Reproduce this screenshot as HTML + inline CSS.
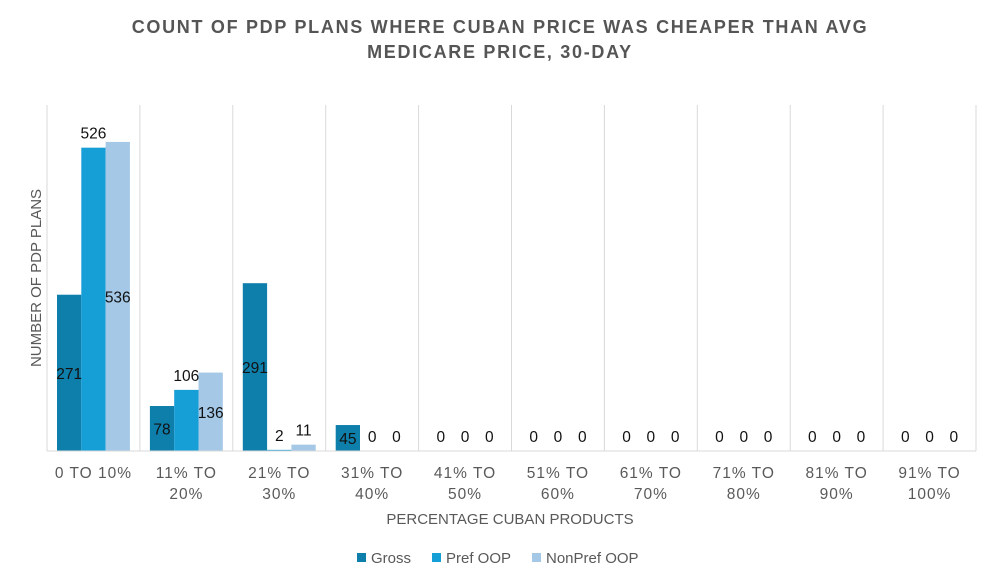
<!DOCTYPE html>
<html><head><meta charset="utf-8"><style>
body{margin:0;background:#fff;font-family:"Liberation Sans",sans-serif;}
svg text{font-family:"Liberation Sans",sans-serif;}
</style></head><body>
<svg id="c" width="1000" height="579">
<text x="500" y="33" text-anchor="middle" font-size="18" font-weight="bold" fill="#555" letter-spacing="1.7">COUNT OF PDP PLANS WHERE CUBAN PRICE WAS CHEAPER THAN AVG</text>
<text x="500" y="58" text-anchor="middle" font-size="18" font-weight="bold" fill="#555" letter-spacing="1.7">MEDICARE PRICE, 30-DAY</text>
<text transform="translate(41,278) rotate(-90)" text-anchor="middle" font-size="15" fill="#595959">NUMBER OF PDP PLANS</text>
<text x="510" y="524" text-anchor="middle" font-size="15" fill="#595959">PERCENTAGE CUBAN PRODUCTS</text>
<g id="plot"></g>
<g>
<rect x="357" y="553" width="9" height="9" fill="#0e7eab"/>
<text x="371" y="563" font-size="15" fill="#595959">Gross</text>
<rect x="432" y="553" width="9" height="9" fill="#169ed7"/>
<text x="446" y="563" font-size="15" fill="#595959">Pref OOP</text>
<rect x="532" y="553" width="9" height="9" fill="#a4c8e6"/>
<text x="546" y="563" font-size="15" fill="#595959">NonPref OOP</text>
</g>
</svg>
<script>
const categories1=["0 TO 10%","11% TO","21% TO","31% TO","41% TO","51% TO","61% TO","71% TO","81% TO","91% TO"];
const categories2=["","20%","30%","40%","50%","60%","70%","80%","90%","100%"];
const gross=[271,78,291,45,0,0,0,0,0,0];
const prefOOP=[526,106,2,0,0,0,0,0,0,0];
const nonPrefOOP=[536,136,11,0,0,0,0,0,0,0];
const yMax=600;
const NS="http://www.w3.org/2000/svg";
const g=document.getElementById('plot');
const x0=47,x1=976,yTop=105,yBase=451;
const cw=(x1-x0)/categories1.length;
function y(v){return yBase-(v/yMax)*(yBase-yTop);}
function el(t,a){const e=document.createElementNS(NS,t);for(const k in a)e.setAttribute(k,a[k]);g.appendChild(e);return e;}
for(let i=0;i<=categories1.length;i++){
  const l=el('line',{x1:x0+i*cw,x2:x0+i*cw,y1:yTop,y2:yBase,stroke:'#d9d9d9','stroke-width':1});
  
  
}
const series=[{d:gross,c:'#0e7eab',n:'gross',mode:'center'},{d:prefOOP,c:'#169ed7',n:'pref-oop',mode:'above'},{d:nonPrefOOP,c:'#a4c8e6',n:'nonpref-oop',mode:'center'}];
const bw=24.3;
categories1.forEach((c,i)=>{
  series.forEach((s,j)=>{
    const v=s.d[i];const bx=x0+i*cw+10+j*bw;const top=y(v);
    const r=el('rect',{x:bx,y:top,width:bw,height:yBase-top,fill:s.c});
    
    
    let ly;
    if(s.mode==='center'&&yBase-top>20) ly=(top+yBase)/2+6;
    else if(s.mode==='center') ly=Math.min(top-9,442);
    else ly=top-9;
    const t=el('text',{x:bx+bw/2,y:ly,'text-anchor':'middle','font-size':15.5,fill:'#111'});
    t.textContent=v;
    
    
  });
  const cx=x0+i*cw+cw/2;
  const t1=el('text',{x:cx,y:478,'text-anchor':'middle','font-size':15.5,fill:'#595959','letter-spacing':1});
  t1.textContent=c;
  
  
  if(categories2[i]){
    const t2=el('text',{x:cx,y:499,'text-anchor':'middle','font-size':15.5,fill:'#595959','letter-spacing':1});
    t2.textContent=categories2[i];
    
    
  }
});
const ax=el('line',{x1:x0,x2:x1,y1:yBase,y2:yBase,stroke:'#d9d9d9','stroke-width':1});


</script>
</body></html>
